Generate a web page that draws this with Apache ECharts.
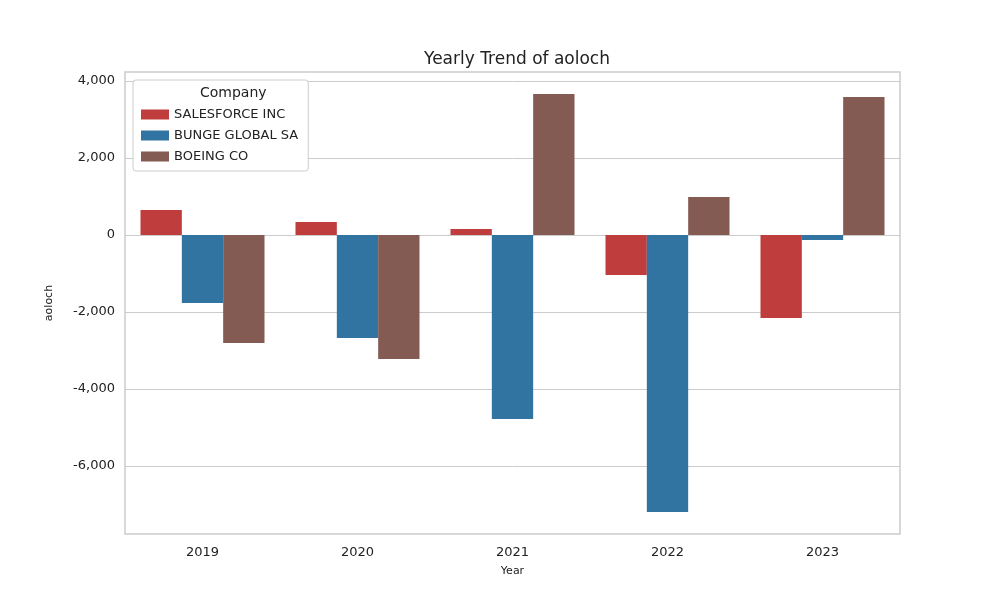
<!DOCTYPE html>
<html>
<head>
<meta charset="utf-8">
<script src="https://cdn.jsdelivr.net/npm/echarts@6/dist/echarts.min.js"></script>
<style>html,body{margin:0;background:#fff}#chart{width:1000px;height:600px}</style>
</head>
<body>
<div id="chart"></div>
<script>
// 数据
const years = ['2019', '2020', '2021', '2022', '2023'];
const companies = ['SALESFORCE INC', 'BUNGE GLOBAL SA', 'BOEING CO'];
const salesforce = [650, 340, 155, -1040, -2155];
const bunge = [-1766, -2675, -4780, -7195, -130];
const boeing = [-2805, -3220, 3660, 990, 3585];
const colors = ['#c03d3e', '#3274a1', '#845b53'];

const font = 'DejaVu Sans';
const chart = echarts.init(document.getElementById('chart'));
const values = [salesforce, bunge, boeing];

chart.setOption({
    animation: false,
    textStyle: {fontFamily: font},
    title: {
        text: 'Yearly Trend of aoloch',
        left: 512, top: 46, textAlign: 'center',
        textStyle: {fontSize: 17, fontWeight: 'normal', color: '#222', fontFamily: font}
    },
    legend: {
        orient: 'vertical',
        left: 133, top: 80,
        padding: [28, 10, 8, 8],
        itemGap: 8,
        itemWidth: 28, itemHeight: 10,
        icon: 'rect',
        backgroundColor: '#fff',
        borderColor: '#ccc', borderWidth: 1, borderRadius: 3,
        textStyle: {fontSize: 13, color: '#222'},
        data: companies
    },
    graphic: [{
        type: 'text', left: 200, top: 86, z: 100,
        style: {text: 'Company', fontSize: 14, fill: '#222', fontFamily: font}
    }],
    grid: {left: 125, right: 100, top: 72, bottom: 66, show: true, borderColor: '#ccc', borderWidth: 1.5},
    xAxis: {
        type: 'category', data: years,
        name: 'Year', nameLocation: 'middle', nameGap: 32,
        nameTextStyle: {fontSize: 11, color: '#222'},
        axisLine: {show: false}, axisTick: {show: false},
        axisLabel: {fontSize: 13, color: '#222', margin: 12}
    },
    yAxis: {
        type: 'value', min: -7766, max: 4234, interval: 2000,
        name: 'aoloch', nameLocation: 'middle', nameGap: 70,
        nameTextStyle: {fontSize: 11, color: '#222'},
        axisLine: {show: false}, axisTick: {show: false},
        axisLabel: {
            fontSize: 13, color: '#222', margin: 10,
            customValues: [-6000, -4000, -2000, 0, 2000, 4000]
        },
        splitLine: {show: false}
    },
    series: companies.map((name, i) => ({
        name: name, type: 'bar',
        data: values[i],
        itemStyle: {color: colors[i]},
        barGap: '0%', barCategoryGap: '20%',
        markLine: i === 0 ? {
            silent: true, symbol: 'none', label: {show: false},
            lineStyle: {color: '#ccc', type: 'solid', width: 1},
            z: 0,
            data: [-6000, -4000, -2000, 0, 2000, 4000].map(v => ({yAxis: v}))
        } : undefined
    }))
});
</script>
</body>
</html>
